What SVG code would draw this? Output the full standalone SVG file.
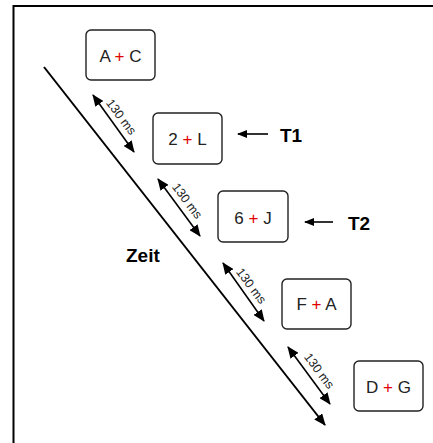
<svg xmlns="http://www.w3.org/2000/svg" width="433" height="443" viewBox="0 0 433 443">
<style>
.box{fill:#fff;stroke:#222;stroke-width:1.4}
.lbl{font-family:"Liberation Sans",Arial,sans-serif;font-size:17px;fill:#222;text-anchor:middle}
.plus{fill:#e00000}
.ms{font-family:"Liberation Sans",Arial,sans-serif;font-size:12.5px;fill:#222;text-anchor:middle}
.big{font-family:"Liberation Sans",Arial,sans-serif;font-size:19px;font-weight:bold;fill:#000}
.ln{stroke:#000;fill:none}
</style>
<defs>
<marker id="ah" markerUnits="userSpaceOnUse" markerWidth="12" markerHeight="10" refX="11" refY="5" orient="auto-start-reverse">
<path d="M0,0 L12,5 L0,10 Z" fill="#000"/>
</marker>
<marker id="ahs" markerUnits="userSpaceOnUse" markerWidth="10" markerHeight="8" refX="9" refY="4" orient="auto">
<path d="M0,0 L10,4 L0,8 Z" fill="#000"/>
</marker>
</defs>
<rect x="0" y="0" width="433" height="443" fill="#fff"/>
<rect x="13.5" y="6" width="430" height="450" fill="none" stroke="#000" stroke-width="2"/>
<g id="connectors">
<line class="ln" x1="44" y1="67" x2="325" y2="425" stroke-width="2" marker-end="url(#ah)"/>
<line class="ln" x1="93" y1="95" x2="134" y2="152" stroke-width="1.6" marker-start="url(#ah)" marker-end="url(#ah)"/>
<line class="ln" x1="158" y1="179" x2="200" y2="236" stroke-width="1.6" marker-start="url(#ah)" marker-end="url(#ah)"/>
<line class="ln" x1="223" y1="263" x2="264" y2="321" stroke-width="1.6" marker-start="url(#ah)" marker-end="url(#ah)"/>
<line class="ln" x1="288" y1="347" x2="330" y2="404" stroke-width="1.6" marker-start="url(#ah)" marker-end="url(#ah)"/>
<line class="ln" x1="268" y1="134" x2="238" y2="134" stroke-width="1.6" marker-end="url(#ahs)"/>
<line class="ln" x1="333" y1="222" x2="305" y2="222" stroke-width="1.6" marker-end="url(#ahs)"/>
</g>
<g id="lbl1"><text class="ms" transform="translate(121,117) rotate(53)" y="4">130 ms</text></g>
<g id="lbl2"><text class="ms" transform="translate(187,201) rotate(53)" y="4">130 ms</text></g>
<g id="lbl3"><text class="ms" transform="translate(251,286) rotate(53)" y="4">130 ms</text></g>
<g id="lbl4"><text class="ms" transform="translate(319,371) rotate(53)" y="4">130 ms</text></g>
<g id="n1"><rect class="box" x="86" y="30" width="69" height="50" rx="5"/><text class="lbl" x="120.5" y="62">A <tspan class="plus">+</tspan> C</text></g>
<g id="n2"><rect class="box" x="153" y="113" width="69" height="51" rx="5"/><text class="lbl" x="187.5" y="145">2 <tspan class="plus">+</tspan> L</text></g>
<g id="n3"><rect class="box" x="218" y="191" width="70" height="51" rx="5"/><text class="lbl" x="253" y="224">6 <tspan class="plus">+</tspan> J</text></g>
<g id="n4"><rect class="box" x="282" y="279" width="69" height="50" rx="5"/><text class="lbl" x="316.5" y="310">F <tspan class="plus">+</tspan> A</text></g>
<g id="n5"><rect class="box" x="354" y="361" width="69" height="50" rx="5"/><text class="lbl" x="388.5" y="393">D <tspan class="plus">+</tspan> G</text></g>
<g id="t1"><text class="big" x="280" y="142">T1</text></g>
<g id="t2"><text class="big" x="348" y="230">T2</text></g>
<g id="zeit"><text class="big" x="126" y="262">Zeit</text></g>
</svg>
